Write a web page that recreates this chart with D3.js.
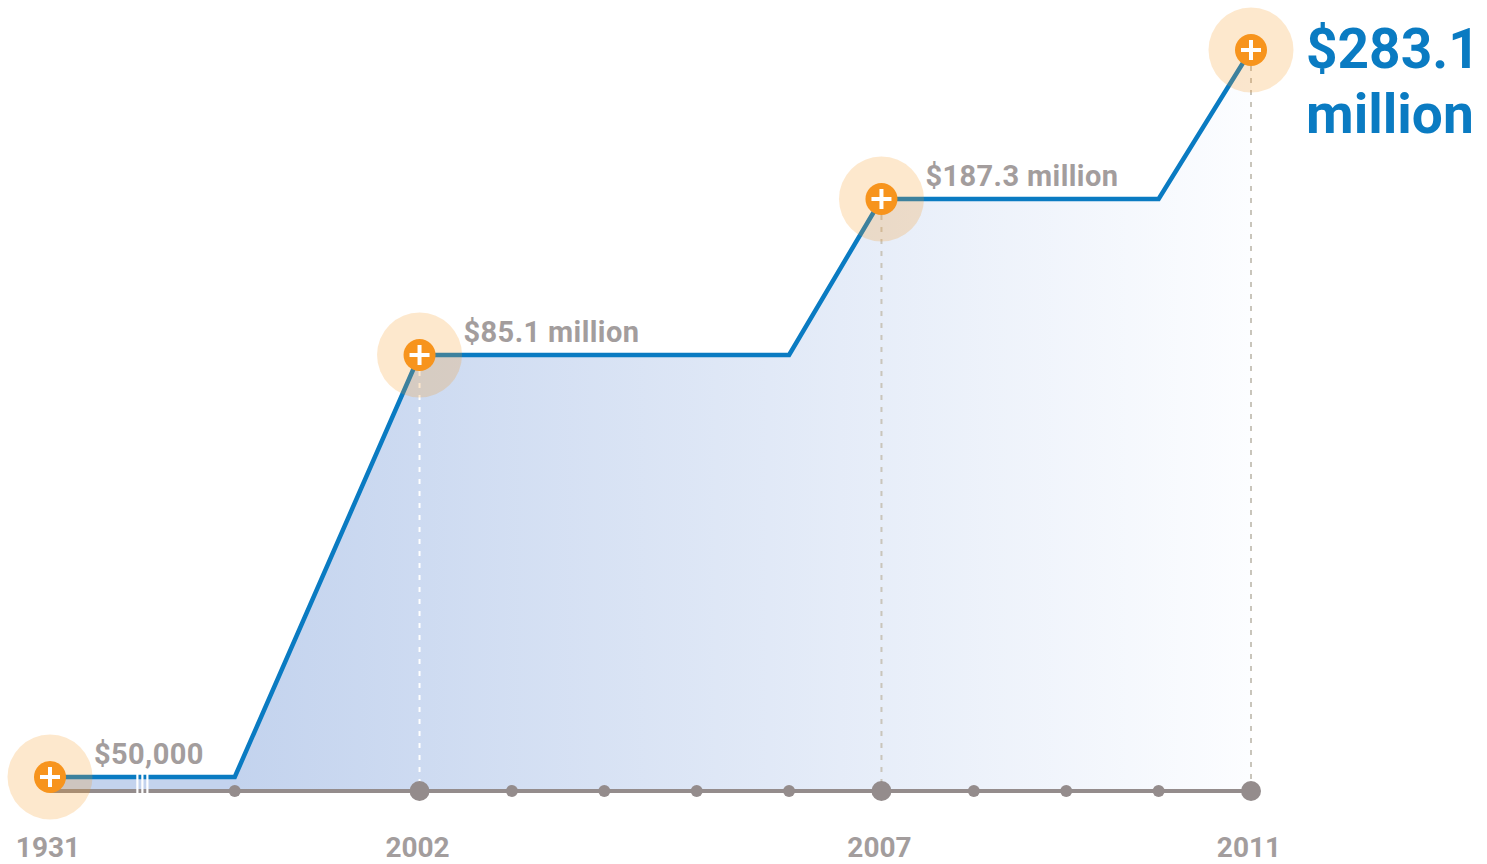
<!DOCTYPE html>
<html>
<head>
<meta charset="utf-8">
<script src="https://cdn.jsdelivr.net/npm/d3@7"></script>
<style>
  body { margin: 0; background: #fff; }
  text { font-family: Roboto, "Noto Sans", sans-serif; font-weight: 700; }
</style>
</head>
<body>
<svg></svg>
<script>
var w = 1487,
    h = 864;

// the 1931 point sits on a broken axis, two slots left of 2000
var breakYear = 1931;
var breakSlot = 1998;

var lineYears = [1931, 2000, 2002, 2006, 2007, 2010, 2011];
var lineValues = [0.05, 0.05, 85.1, 85.1, 187.3, 187.3, 283.1];

var milestoneYears = [1931, 2002, 2007, 2011];
var milestoneValues = [0.05, 85.1, 187.3, 283.1];
var milestoneLabels = ["$50,000", "$85.1 million", "$187.3 million", "$283.1 million"];

var dotYears = [2000, 2002, 2003, 2004, 2005, 2006, 2007, 2008, 2009, 2010, 2011];
var majorYears = [2002, 2007, 2011];
var tickLabels = ["1931", "2002", "2007", "2011"];

var blue = "#0a7bc2",
    orange = "#f7941d",
    grey = "#948c8c",
    textGrey = "#a39d9d";

var axisY = 791;

var vis = d3.select("svg")
    .attr("width", w)
    .attr("height", h);

var slot = function(year) {
  return year === breakYear ? breakSlot : year;
};

var x = d3.scaleLinear()
    .domain([breakSlot, 2011])
    .range([50, 1251]);

// stylised, not to scale: piecewise through the milestones
var y = d3.scaleLinear()
    .domain(milestoneValues)
    .range([777, 355, 199, 50]);

var px = function(year) { return x(slot(year)); };

var lineData = lineYears.map(function(d, i) { return [d, lineValues[i]]; });

// gradient for area
var grad = vis.append("defs").append("linearGradient")
    .attr("id", "fade")
    .attr("gradientUnits", "userSpaceOnUse")
    .attr("x1", px(2000)).attr("x2", px(2011))
    .attr("y1", 0).attr("y2", 0);
grad.append("stop").attr("offset", 0).attr("stop-color", "#c3d3ee");
grad.append("stop").attr("offset", 1).attr("stop-color", "#fcfdff");

var area = d3.area()
    .x(function(d) { return px(d[0]); })
    .y0(axisY)
    .y1(function(d) { return y(d[1]); });

vis.append("path")
    .datum(lineData)
    .attr("d", area)
    .attr("fill", "url(#fade)");

// dashed drop lines
vis.selectAll(".drop")
    .data(milestoneYears.slice(1))
    .enter().append("line")
    .attr("class", "drop")
    .attr("x1", function(d) { return px(d); })
    .attr("x2", function(d) { return px(d); })
    .attr("y1", function(d, i) { return y(milestoneValues[i + 1]) + 16; })
    .attr("y2", axisY)
    .attr("stroke", function(d, i) { return i === 0 ? "#ffffff" : "#c9c5bb"; })
    .attr("stroke-width", 2)
    .attr("stroke-dasharray", "5,7");

// axis
vis.append("line")
    .attr("x1", px(breakYear)).attr("x2", px(2011))
    .attr("y1", axisY).attr("y2", axisY)
    .attr("stroke", grey)
    .attr("stroke-width", 4);

vis.selectAll(".dot")
    .data(dotYears)
    .enter().append("circle")
    .attr("class", "dot")
    .attr("cx", function(d) { return px(d); })
    .attr("cy", axisY)
    .attr("r", function(d) { return majorYears.indexOf(d) >= 0 ? 10 : 6; })
    .attr("fill", grey);

// value line
var line = d3.line()
    .x(function(d) { return px(d[0]); })
    .y(function(d) { return y(d[1]); });

vis.append("path")
    .datum(lineData)
    .attr("d", line)
    .attr("fill", "none")
    .attr("stroke", blue)
    .attr("stroke-width", 4.5)
    .attr("stroke-linejoin", "miter");

// axis break
[-5, 0, 5].forEach(function(off) {
  vis.append("line")
      .attr("x1", x(breakSlot + 1) + off).attr("x2", x(breakSlot + 1) + off)
      .attr("y1", 771).attr("y2", 796)
      .attr("stroke", "#fff")
      .attr("stroke-width", 2.2);
});

// markers
var marks = vis.selectAll(".mark")
    .data(milestoneYears)
    .enter().append("g")
    .attr("class", "mark")
    .attr("transform", function(d, i) {
      return "translate(" + px(d) + "," + y(milestoneValues[i]) + ")";
    });

marks.append("circle")
    .attr("r", 42.5)
    .attr("fill", orange)
    .attr("fill-opacity", 0.22);

marks.append("circle")
    .attr("r", 16)
    .attr("fill", orange);

marks.append("path")
    .attr("d", "M-10,0H10M0,-10V10")
    .attr("stroke", "#fff")
    .attr("stroke-width", 4);

// value labels
vis.selectAll(".val")
    .data(milestoneLabels.slice(0, 3))
    .enter().append("text")
    .attr("class", "val")
    .attr("x", function(d, i) { return px(milestoneYears[i]) + 44; })
    .attr("y", function(d, i) { return y(milestoneValues[i]) - 13; })
    .attr("fill", textGrey)
    .attr("font-size", 29)
    .attr("letter-spacing", 0.4)
    .text(function(d) { return d; });

var last = milestoneLabels[3].split(" ");
var big = vis.append("text")
    .attr("fill", blue)
    .attr("font-size", 55);
big.append("tspan").attr("x", px(2011) + 55).attr("y", y(283.1) + 18).text(last[0]);
big.append("tspan").attr("x", px(2011) + 55).attr("y", y(283.1) + 83).text(last[1]);

// year labels
vis.selectAll(".year")
    .data(tickLabels)
    .enter().append("text")
    .attr("class", "year")
    .attr("x", function(d) { return px(+d) - 2; })
    .attr("y", 857)
    .attr("text-anchor", "middle")
    .attr("fill", textGrey)
    .attr("font-size", 28)
    .text(function(d) { return d; });
</script>
</body>
</html>
